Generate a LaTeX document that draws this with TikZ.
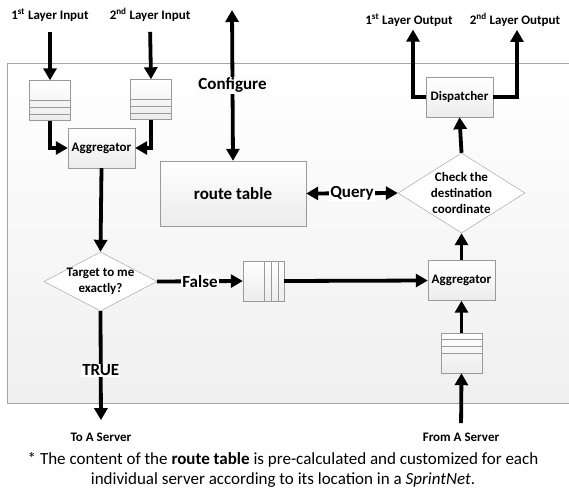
\documentclass[tikz,border=0pt]{standalone}
\usepackage{fontspec}
\setmainfont{Carlito}
\usetikzlibrary{shapes.geometric, arrows.meta, positioning, calc}
\definecolor{framegray}{HTML}{A6A6A6}
\definecolor{boxgray}{HTML}{9A9A9A}

\begin{document}
\begin{tikzpicture}[x=1pt, y=-1pt,
    box/.style={draw=boxgray, top color=white, bottom color=gray!15, minimum width=67pt, minimum height=40pt, align=center, inner sep=0pt, font=\bfseries\fontsize{13}{16}\selectfont},
    queue/.style={draw=boxgray, top color=white, bottom color=gray!15, minimum width=41pt, minimum height=40pt, inner sep=0pt},
    decision/.style={draw=boxgray, diamond, fill=white, align=center, inner sep=-4pt, font=\bfseries\fontsize{13}{16}\selectfont},
    arrow/.style={-{Triangle[width=13pt, length=12pt]}, line width=3.8pt},
    twoway/.style={{Triangle[width=13pt, length=12pt]}-{Triangle[width=13pt, length=12pt]}, line width=3.8pt},
    tag/.style={fill=white, inner sep=1pt, font=\bfseries\fontsize{17}{20}\selectfont},
    io/.style={font=\bfseries\fontsize{13}{15}\selectfont},
    qline/.style={draw=boxgray, line width=0.6pt},
]
    \useasboundingbox (0,0) rectangle (569,490);
    % outer frame
    \shade[top color=white, bottom color=gray!12] (7,63) rectangle (569,403);
    \draw[framegray, line width=0.8pt] (569,63) -- (7,63) -- (7,403) -- (569,403);

    \node[io] (in1) at (50,15) {1\textsuperscript{st} Layer Input};
    \node[io] (in2) at (150,15) {2\textsuperscript{nd} Layer Input};
    \node[io] (out1) at (409,20) {1\textsuperscript{st} Layer Output};
    \node[io] (out2) at (515,20) {2\textsuperscript{nd} Layer Output};
    \node[io] (toserver) at (101,437) {To A Server};
    \node[io] (fromserver) at (461,437) {From A Server};
    \coordinate (cfgtop) at (232,10);

    \node[queue] (q1) at (50,100.5) {};
    \node[queue] (q2) at (151,99.5) {};
    \node[box] (agg1) at (101.5,148) {Aggregator};
    \node[decision, minimum width=113pt, minimum height=59pt, shape aspect=1.9] (target) at (100.5,281.5) {Target to me\\exactly?};
    \node[queue] (q4) at (263.5,281) {};
    \node[box, minimum width=146pt, minimum height=65pt, font=\bfseries\fontsize{17}{20}\selectfont] (route) at (233,193.5) {route table};
    \node[decision, minimum width=127pt, minimum height=80pt, shape aspect=1.6] (check) at (461.5,193) {Check the\\destination\\coordinate};
    \node[box] (disp) at (459.5,97) {Dispatcher};
    \node[box] (agg2) at (461.5,280.5) {Aggregator};
    \node[queue] (q3) at (461.5,353) {};

    % queue slots
    \foreach \d in {6,13,20} {
        \draw[qline] ([yshift=\d pt]q1.south west) -- ([yshift=\d pt]q1.south east);
        \draw[qline] ([yshift=\d pt]q2.south west) -- ([yshift=\d pt]q2.south east);
        \draw[qline] ([yshift=-\d pt]q3.north west) -- ([yshift=-\d pt]q3.north east);
        \draw[qline] ([xshift=-\d pt]q4.north east) -- ([xshift=-\d pt]q4.south east);
    }

    \draw[arrow, shorten <=7pt] (in1.south) -- (q1.north);
    \draw[arrow, shorten <=7pt] (in2.south) -- (q2.north);
    \draw[arrow] (q1.south) |- (agg1.west);
    \draw[arrow] (q2.south) |- (agg1.east);
    \draw[arrow] (agg1.south) -- (target.north);
    \draw[arrow] (target.east) -- node[tag]{False} (q4.west);
    \draw[arrow, shorten >=9pt] (target.south) -- node[tag]{TRUE} (toserver.north);
    \draw[arrow] (q4.east) -- (agg2.west);
    \draw[arrow, shorten <=6pt] (fromserver.north) -- (q3.south);
    \draw[arrow] (q3.north) -- (agg2.south);
    \draw[arrow] (agg2.north) -- (check.south);
    \draw[arrow] (check.north) -- (disp.south);
    \draw[arrow] (disp.west) -| ([xshift=4pt]out1.south);
    \draw[arrow] (disp.east) -| ([xshift=2pt]out2.south);
    \draw[twoway] (route.east) -- node[tag]{Query} (check.west);
    \draw[twoway] (cfgtop) -- node[tag, fill=white!97!gray]{Configure} (route.north);

    % footnote
    \node[align=center, font=\fontsize{17}{20}\selectfont] (note) at (283,470) {* The content of the \textbf{route table} is pre-calculated and customized for each\\individual server according to its location in a \textit{SprintNet}.};
\end{tikzpicture}
\end{document}
